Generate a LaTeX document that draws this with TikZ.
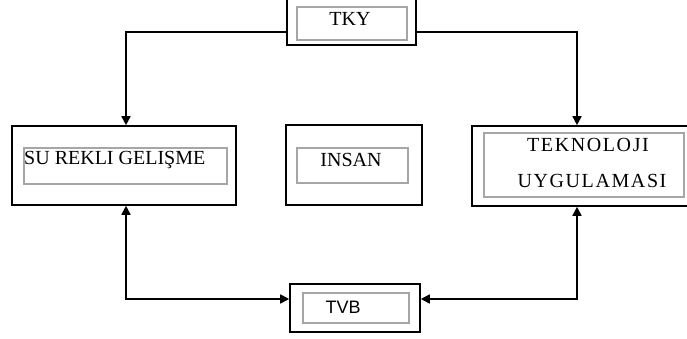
\documentclass[tikz,border=0pt]{standalone}
\usepackage{fontspec}
\setmainfont{Liberation Serif}
\newfontfamily\tvbfont{Liberation Sans}
\newfontfamily\widefont[LetterSpace=8]{Liberation Serif}
\usetikzlibrary{arrows.meta}
\begin{document}
\begin{tikzpicture}[x=1pt,y=-1pt,
  outer/.style={draw=black, line width=1.6pt, inner sep=0pt, rectangle},
  innerbox/.style={draw=black!35, line width=1.6pt, inner sep=0pt, rectangle},
  lbl/.style={font=\fontsize{20}{24}\selectfont, inner sep=0pt},
  arr/.style={line width=1.6pt, -{Triangle[length=9pt,width=9pt]}},
  arrs/.style={line width=1.6pt, {Triangle[length=9pt,width=9pt]}-{Triangle[length=9pt,width=9pt]}}]
\useasboundingbox (0,0) rectangle (687,339);
\clip (0,0) rectangle (687,339);
\fill[white] (0,0) rectangle (687,339);

% outer boxes
\node[outer, minimum width=129pt, minimum height=46pt] (tky) at (351.5,22) {};
\node[outer, minimum width=224pt, minimum height=79pt] (sur) at (124,165.5) {};
\node[outer, minimum width=136pt, minimum height=80pt] (ins) at (354,165) {};
\node[outer, minimum width=220pt, minimum height=80pt] (tek) at (582,166) {};
\node[outer, minimum width=130pt, minimum height=48pt] (tvb) at (355,308) {};

% inner boxes
\node[innerbox, minimum width=110pt, minimum height=33pt] (tkyin) at (352,23.5) {};
\node[innerbox, minimum width=203pt, minimum height=36pt] (surin) at (125.5,166) {};
\node[innerbox, minimum width=111pt, minimum height=35pt] (insin) at (352.5,165.5) {};
\node[innerbox, minimum width=200pt, minimum height=64pt] (tekin) at (584,165) {};
\node[innerbox, minimum width=106pt, minimum height=30pt] (tvbin) at (356,308) {};

% texts
\node[lbl] (tkyt) at (350,19) {TKY};
\node[lbl, anchor=west] (surt) at (24,160) {SU REKLI GELIŞME};
\node[lbl] (inst) at (351,160) {INSAN};
\node[lbl, font=\widefont\fontsize{20}{24}\selectfont] (tekt1) at (588,145) {TEKNOLOJI};
\node[lbl, font=\widefont\fontsize{20}{24}\selectfont] (tekt2) at (592,181) {UYGULAMASI};
\node[lbl, font=\tvbfont\fontsize{18}{22}\selectfont] (tvbt) at (343,307) {TVB};

% connectors
\coordinate (tl) at (126,32);
\coordinate (tr) at (577,32);
\coordinate (bl) at (126,299);
\coordinate (br) at (577,299);
\draw[arr] (tky.west |- tl) -- (tl) -- (tl |- sur.north);
\draw[arr] (tky.east |- tr) -- (tr) -- (tr |- tek.north);
\draw[arrs] (sur.south -| bl) -- (bl) -- (tvb.west |- bl);
\draw[arrs] (tek.south -| br) -- (br) -- (tvb.east |- br);
\end{tikzpicture}
\end{document}
